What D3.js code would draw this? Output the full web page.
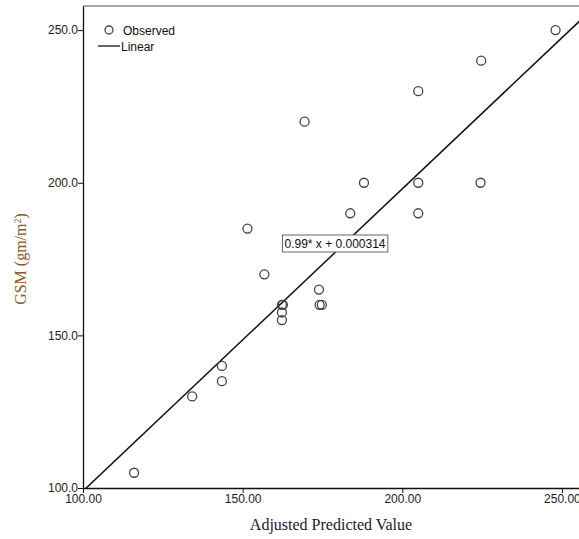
<!DOCTYPE html>
<html lang="en">
<head>
  <meta charset="utf-8">
  <title>GSM vs Adjusted Predicted Value</title>
  <script src="https://d3js.org/d3.v7.min.js"></script>
  <style>
    body { margin: 0; background: #fff; overflow: hidden; }
    svg { display: block; }
  </style>
</head>
<body>
  <svg width="579" height="539"></svg>
  <script>
    // observed points
    var predicted = [116, 134.2, 143.5, 143.5, 151.5, 156.8, 169.4,
                     162.3, 162.6, 162.3, 162.3, 173.9, 174.1, 174.8,
                     183.7, 188, 205, 205, 205, 224.7, 224.5, 248];
    var gsm       = [105, 130, 140, 135, 185, 170, 220,
                     160, 160, 157.5, 155, 165, 160, 160,
                     190, 200, 230, 200, 190, 240, 200, 250];

    // fitted line  y = 0.99 x + 0.000314
    var slope = 0.99, intercept = 0.000314;
    var fitLabel = "0.99* x + 0.000314";

    var xTicks = [100, 150, 200, 250];
    var yTicks = [100, 150, 200, 250];

    var svg = d3.select("svg");

    var plotLeft = 83, plotRight = 579, plotTop = 6, plotBottom = 488;

    var x = d3.scaleLinear().domain([100, 255.5]).range([plotLeft, plotRight + 0.5]);
    var y = d3.scaleLinear().domain([100, 257.9]).range([plotBottom, plotTop]);

    svg.append("clipPath").attr("id", "plotclip")
      .append("rect")
        .attr("x", plotLeft).attr("y", plotTop)
        .attr("width", plotRight - plotLeft).attr("height", plotBottom - plotTop);

    // top frame line
    svg.append("line")
        .attr("x1", plotLeft).attr("x2", plotRight)
        .attr("y1", plotTop).attr("y2", plotTop)
        .attr("stroke", "#8a8a8a").attr("stroke-width", 1.5);

    // axes
    var xAxis = svg.append("g")
        .attr("transform", "translate(0," + plotBottom + ")")
        .call(d3.axisBottom(x).tickValues(xTicks).tickSize(5).tickSizeOuter(0)
          .tickFormat(d3.format(".2f")));

    var yAxis = svg.append("g")
        .attr("transform", "translate(" + plotLeft + ",0)")
        .call(d3.axisLeft(y).tickValues(yTicks).tickSize(5).tickSizeOuter(0)
          .tickFormat(d3.format(".1f")));

    [xAxis, yAxis].forEach(function(a) {
      a.select(".domain").attr("stroke", "#111").attr("stroke-width", 1.3);
      a.selectAll(".tick line").attr("stroke", "#111");
      a.selectAll(".tick text")
        .attr("font-family", "Liberation Sans, Arial, sans-serif")
        .attr("font-size", 12)
        .attr("fill", "#222");
    });
    xAxis.selectAll(".tick text").attr("dy", "0.95em").attr("y", 4);
    yAxis.selectAll(".tick text").attr("x", -5);

    // fit line
    var xs = x.domain();
    svg.append("line")
        .attr("clip-path", "url(#plotclip)")
        .attr("x1", x(xs[0])).attr("y1", y(slope * xs[0] + intercept))
        .attr("x2", x(xs[1])).attr("y2", y(slope * xs[1] + intercept))
        .attr("stroke", "#111").attr("stroke-width", 1.5);

    // observed circles
    svg.append("g").selectAll("circle")
      .data(d3.range(predicted.length))
      .join("circle")
        .attr("cx", function(i) { return x(predicted[i]); })
        .attr("cy", function(i) { return y(gsm[i]); })
        .attr("r", 4.5)
        .attr("fill", "none")
        .attr("stroke", "#444")
        .attr("stroke-width", 1.3);

    // equation label box
    var lab = svg.append("g").attr("transform", "translate(335,243.5)");
    var labText = lab.append("text")
        .attr("text-anchor", "middle")
        .attr("dy", "0.35em")
        .attr("font-family", "Liberation Sans, Arial, sans-serif")
        .attr("font-size", 12)
        .attr("fill", "#111")
        .text(fitLabel);
    var bb = labText.node().getBBox();
    lab.insert("rect", "text")
        .attr("x", bb.x - 2).attr("y", -8.5)
        .attr("width", bb.width + 4).attr("height", 17)
        .attr("fill", "#fff").attr("stroke", "#666").attr("stroke-width", 1);

    // legend
    var leg = svg.append("g")
        .attr("font-family", "Liberation Sans, Arial, sans-serif")
        .attr("font-size", 12).attr("fill", "#111");
    leg.append("circle").attr("cx", 109).attr("cy", 30).attr("r", 4)
        .attr("fill", "none").attr("stroke", "#444").attr("stroke-width", 1.3);
    leg.append("text").attr("x", 123).attr("y", 35).text("Observed");
    leg.append("line").attr("x1", 98).attr("x2", 120).attr("y1", 46).attr("y2", 46)
        .attr("stroke", "#333").attr("stroke-width", 1.5);
    leg.append("text").attr("x", 121).attr("y", 51).text("Linear");

    // axis titles
    svg.append("text")
        .attr("x", 331).attr("y", 530)
        .attr("text-anchor", "middle")
        .attr("font-family", "Liberation Serif, Times New Roman, serif")
        .attr("font-size", 16)
        .attr("fill", "#1a1a2a")
        .text("Adjusted Predicted Value");

    var yt = svg.append("text")
        .attr("transform", "translate(26,259) rotate(-90)")
        .attr("text-anchor", "middle")
        .attr("font-family", "Liberation Serif, Times New Roman, serif")
        .attr("font-size", 16)
        .attr("fill", "#8a5a28");
    yt.append("tspan").text("GSM (gm/m");
    yt.append("tspan").attr("baseline-shift", "super").attr("font-size", 10).text("2");
    yt.append("tspan").text(")");
  </script>
</body>
</html>
